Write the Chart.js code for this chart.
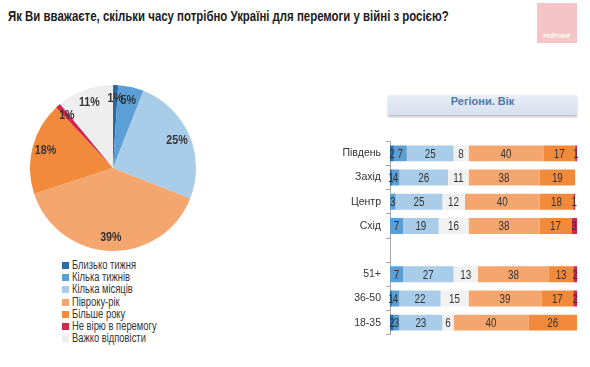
<!DOCTYPE html>
<html lang="uk">
<head>
<meta charset="utf-8">
<title>Скільки часу потрібно Україні для перемоги</title>
<script src="https://cdn.jsdelivr.net/npm/chart.js@4.4.1/dist/chart.umd.min.js"></script>
<style>
  body { margin:0; width:590px; height:367px; background:#fff; position:relative; overflow:hidden;
         font-family:'Liberation Sans',Arial,sans-serif; }
  #title { position:absolute; left:8px; top:8px; font-size:14px; font-weight:bold; color:#1c1c1c; white-space:nowrap;
           transform:scaleX(0.815); transform-origin:0 0; }
  #logo { position:absolute; left:537px; top:3px; width:40px; height:40px; background:#f5c4c7; }
  #logo span { position:absolute; left:0; right:0; bottom:4px; text-align:center; color:#fff; font:bold 6px 'Liberation Sans',Arial,sans-serif; }
  #pie-wrap { position:absolute; left:30px; top:85px; width:166px; height:166px; }
  #legend { position:absolute; left:62px; top:259px; font-size:12.5px; color:#333; }
  #legend div { height:12.2px; line-height:12.2px; white-space:nowrap; }
  #legend i { display:inline-block; width:7px; height:7px; margin-right:3px; vertical-align:0px; }
  #legend span { display:inline-block; transform:scaleX(0.75); transform-origin:0 50%; }
  #header { position:absolute; left:388px; top:95px; width:189px; height:20px; line-height:20px;
            background:linear-gradient(#e9eef7,#d7dfee); box-shadow:0 2px 2px rgba(0,0,0,0.25);
            text-align:center; font:bold 11px 'Liberation Sans',Arial,sans-serif; color:#4f78a8; }
  #bar-wrap { position:absolute; left:320px; top:130px; width:262px; height:216px; }
</style>
</head>
<body>
<div id="title">Як Ви вважаєте, скільки часу потрібно Україні для перемоги у війні з росією?</div>
<div id="logo"><span>РЕЙТИНГ</span></div>
<div id="pie-wrap"><canvas id="chart-pie" width="166" height="166"></canvas></div>
<div id="legend"></div>
<div id="header">Регіони. Вік</div>
<div id="bar-wrap"><canvas id="chart-bars" width="262" height="216"></canvas></div>

<script>
// =====================
// ДАНІ
// =====================

const answers = ['Близько тижня', 'Кілька тижнів', 'Кілька місяців', 'Півроку-рік', 'Більше року', 'Не вірю в перемогу', 'Важко відповісти'];
const answerColors = ['#2c6aa5', '#5b9fd6', '#a9cce9', '#f5a56e', '#f28a3b', '#d3264f', '#eeeeee'];
const totalValues = [1, 5, 25, 39, 18, 1, 11];

// рядки справа (порожній рядок — проміжок між регіонами та віком)
const groups = ['Південь', 'Захід', 'Центр', 'Схід', '', '51+', '36-50', '18-35'];
const weekValues     = [2, 1, 0, 0, null, 0, 1, 2];
const weeksValues    = [7, 4, 3, 7, null, 7, 4, 3];
const monthsValues   = [25, 26, 25, 19, null, 27, 22, 23];
const hardValues     = [8, 11, 12, 16, null, 13, 15, 6];
const halfYearValues = [40, 38, 40, 38, null, 38, 39, 40];
const moreYearValues = [17, 19, 18, 17, null, 13, 17, 26];
const noBeliefValues = [1, 0, 1, 3, null, 2, 2, 0];

const labelFont = "'Liberation Sans',Arial,sans-serif";

// вузький шрифт як у макеті: стискаємо текст по горизонталі
function drawNarrow(ctx, text, x, y, sx) {
  ctx.save();
  ctx.translate(x, y);
  ctx.scale(sx, 1);
  ctx.fillText(text, 0, 0);
  ctx.restore();
}

// =====================
// КРУГОВА ДІАГРАМА
// =====================

const pieLabels = {
  id: 'pieLabels',
  afterDatasetsDraw(chart) {
    const ctx = chart.ctx;
    const meta = chart.getDatasetMeta(0);
    ctx.save();
    ctx.font = 'bold 13px ' + labelFont;
    ctx.fillStyle = '#333';
    ctx.textAlign = 'center';
    ctx.textBaseline = 'middle';
    meta.data.forEach((arc, i) => {
      const mid = (arc.startAngle + arc.endAngle) / 2;
      const r = arc.outerRadius * 0.84;
      drawNarrow(ctx, totalValues[i] + '%', arc.x + Math.cos(mid) * r, arc.y + Math.sin(mid) * r, 0.82);
    });
    ctx.restore();
  }
};

new Chart(document.getElementById('chart-pie'), {
  type: 'pie',
  data: {
    labels: answers,
    datasets: [{ data: totalValues, backgroundColor: answerColors, borderWidth: 0 }]
  },
  options: {
    responsive: false,
    animation: false,
    plugins: { legend: { display: false }, tooltip: { enabled: false } }
  },
  plugins: [pieLabels]
});

document.getElementById('legend').innerHTML = answers.map((a, i) =>
  `<div><i style="background:${answerColors[i]}"></i><span>${a}</span></div>`
).join('');

// =====================
// СТОВПЧИКИ ПО РЕГІОНАХ / ВІКУ
// =====================

const barLabels = {
  id: 'barLabels',
  afterDatasetsDraw(chart) {
    const ctx = chart.ctx;
    ctx.save();
    ctx.font = '12px ' + labelFont;
    ctx.fillStyle = '#333';
    ctx.textAlign = 'center';
    ctx.textBaseline = 'middle';
    chart.data.datasets.forEach((ds, di) => {
      chart.getDatasetMeta(di).data.forEach((bar, i) => {
        const v = ds.data[i];
        if (!v) return;
        const p = bar.getCenterPoint();
        drawNarrow(ctx, String(v), p.x, p.y + 1, 0.82);
      });
    });
    ctx.restore();
  }
};

// порядок у стовпчику зліва направо
const barSeries = [
  [weekValues, 0], [weeksValues, 1], [monthsValues, 2], [hardValues, 6],
  [halfYearValues, 3], [moreYearValues, 4], [noBeliefValues, 5]
];

new Chart(document.getElementById('chart-bars'), {
  type: 'bar',
  data: {
    labels: groups,
    datasets: barSeries.map(([vals, ci]) => ({
      label: answers[ci],
      data: vals,
      backgroundColor: ci === 6 ? '#f1f1f1' : answerColors[ci],
      borderWidth: 0,
      barPercentage: 0.66,
      categoryPercentage: 1
    }))
  },
  options: {
    indexAxis: 'y',
    responsive: false,
    animation: false,
    layout: { padding: { top: 5, right: 5, bottom: 5, left: 0 } },
    plugins: { legend: { display: false }, tooltip: { enabled: false } },
    scales: {
      x: { stacked: true, min: 0, max: 100, display: false },
      y: {
        stacked: true,
        afterFit: (scale) => { scale.width = 70; },
        border: { display: true, color: '#a6a6a6' },
        grid: { drawOnChartArea: false, tickLength: 4, color: '#a6a6a6' },
        ticks: { color: '#333', padding: 5, font: { family: labelFont, size: 10.5 } }
      }
    }
  },
  plugins: [barLabels]
});
</script>
</body>
</html>
